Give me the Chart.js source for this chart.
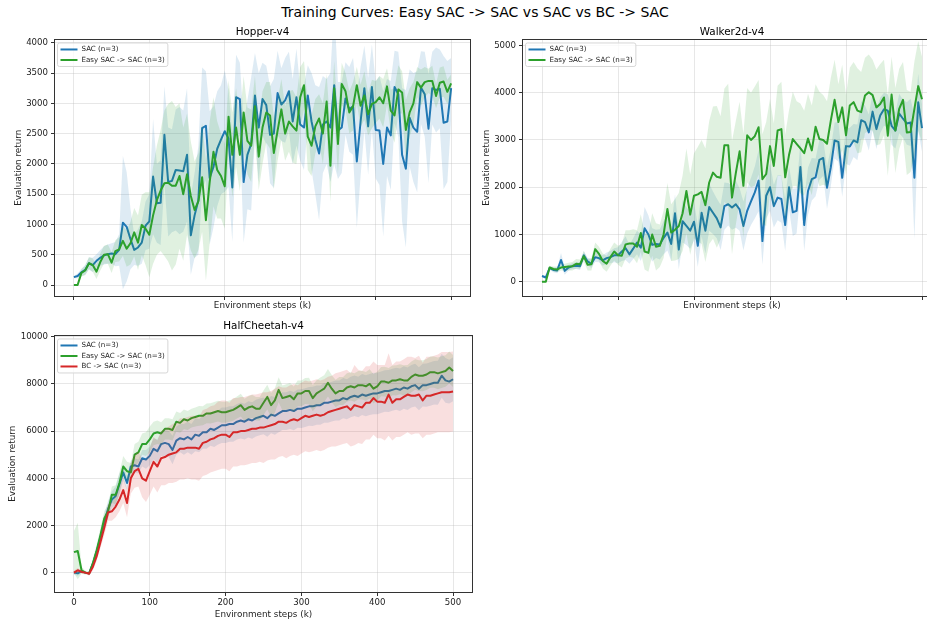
<!DOCTYPE html>
<html>
<head>
<meta charset="utf-8">
<script src="https://cdn.jsdelivr.net/npm/chart.js@4.4.1/dist/chart.umd.min.js"></script>
<style>
    body { margin: 0; width: 927px; height: 621px; overflow: hidden; background: #fff; position: relative; font-family: 'DejaVu Sans', sans-serif; }
    canvas { position: absolute; }
    #suptitle { position: absolute; left: 0; width: 950px; top: 4px; text-align: center; font-size: 14px; color: #000; }
</style>
</head>
<body>
<div id="suptitle">Training Curves: Easy SAC -&gt; SAC vs SAC vs BC -&gt; SAC</div>
<canvas id="hopper" width="480" height="320" style="left:0;top:0"></canvas>
<canvas id="walker" width="480" height="320" style="left:468px;top:0"></canvas>
<canvas id="cheetah" width="480" height="301" style="left:0;top:320px"></canvas>
<script>
// Environment steps (k)
const steps = [
    0, 5, 10, 15, 20, 25, 30, 35, 40, 45, 50,
    55, 60, 65, 70, 75, 80, 85, 90, 95, 100,
    105, 110, 115, 120, 125, 130, 135, 140, 145, 150,
    155, 160, 165, 170, 175, 180, 185, 190, 195, 200,
    205, 210, 215, 220, 225, 230, 235, 240, 245, 250,
    255, 260, 265, 270, 275, 280, 285, 290, 295, 300,
    305, 310, 315, 320, 325, 330, 335, 340, 345, 350,
    355, 360, 365, 370, 375, 380, 385, 390, 395, 400,
    405, 410, 415, 420, 425, 430, 435, 440, 445, 450,
    455, 460, 465, 470, 475, 480, 485, 490, 495, 500
];

// Hopper-v4
const hopperSac = [
    130, 150, 210, 250, 360, 330, 400, 450, 490, 510, 520,
    510, 580, 1030, 960, 760, 580, 620, 700, 980, 1050,
    1790, 1350, 1360, 2480, 1700, 1720, 1900, 1890, 1880, 2150,
    820, 1150, 1400, 2590, 2630, 1770, 1950, 2250, 2400, 2540,
    2420, 1610, 3100, 3070, 1700, 2150, 2330, 3130, 2600, 3070,
    2970, 2480, 2500, 3170, 2980, 3050, 3200, 2700, 3100, 2650,
    2600, 3130, 2700, 2400, 2170, 2650, 2700, 2600, 3300, 2550,
    2600, 3080, 2900, 2950, 2040, 2700, 3250, 2620, 3270, 2560,
    2550, 2000, 2600, 2470, 3270, 3150, 2150, 1920, 2760, 2600,
    2530, 3260, 3150, 2580, 3250, 3220, 3240, 2680, 2700, 3250
];
const hopperSacStd = [
    20, 40, 60, 80, 100, 120, 110, 130, 150, 160, 170,
    200, 260, 1100, 900, 500, 250, 300, 350, 400, 450,
    950, 650, 700, 800, 900, 850, 1000, 1050, 1000, 1100,
    650, 700, 900, 1000, 900, 1100, 1000, 950, 900, 1000,
    800, 900, 700, 600, 1000, 900, 1100, 700, 900, 600,
    650, 800, 900, 700, 600, 700, 650, 700, 800, 600,
    700, 500, 800, 900, 1100, 800, 700, 900, 1300, 800,
    750, 600, 700, 800, 1100, 900, 700, 800, 700, 800,
    900, 1200, 800, 900, 600, 700, 1100, 1300, 800, 900,
    1000, 600, 700, 900, 600, 700, 650, 1100, 1000, 500
];
const hopperEasy = [
    0, 0, 200, 240, 360, 330, 220, 380, 500, 510, 370,
    560, 590, 730, 600, 690, 870, 700, 990, 930, 830,
    1150, 1400, 1560, 1680, 1690, 1640, 1640, 1800, 1500, 1830,
    1470, 1240, 1380, 1780, 1070, 1700, 2200, 1900, 1800, 1630,
    2780, 2150, 2600, 2150, 2850, 2380, 2300, 2950, 2120, 2600,
    2850, 2800, 2180, 2550, 2900, 2500, 2700, 2620, 2550, 3100,
    3300, 2450, 2300, 2620, 2750, 2500, 3030, 1970, 3250, 2330,
    3320, 3200, 2850, 2950, 3300, 2960, 3130, 2820, 2990, 3020,
    3100, 3000, 3280, 2880, 2800, 3230, 3180, 2560, 2850, 3000,
    3350, 3260, 3350, 3370, 3370, 3120, 3340, 3360, 3190, 3330
];
const hopperEasyStd = [
    10, 10, 60, 80, 100, 110, 120, 140, 150, 160, 170,
    180, 200, 250, 300, 350, 400, 450, 500, 600, 700,
    800, 900, 1000, 1200, 1300, 1400, 1300, 1200, 1100, 1000,
    900, 800, 800, 900, 1000, 1000, 900, 800, 700, 700,
    600, 700, 650, 600, 600, 550, 600, 500, 550, 600,
    500, 550, 600, 500, 500, 450, 500, 600, 550, 500,
    400, 550, 500, 450, 400, 500, 450, 600, 450, 500,
    350, 300, 350, 400, 300, 350, 400, 350, 400, 350,
    350, 400, 300, 350, 450, 400, 350, 500, 400, 350,
    250, 300, 250, 200, 250, 200, 250, 250, 200, 150
];

// Walker2d-v4
const walkerSac = [
    120, 90, 290, 250, 240, 460, 230, 300, 330, 340, 330,
    560, 430, 380, 520, 500, 450, 500, 520, 560, 560,
    640, 710, 580, 700, 830, 720, 1130, 1000, 780, 800,
    790, 930, 1040, 800, 1450, 680, 1280, 1180, 1080, 1270,
    760, 1460, 1080, 1580, 1460, 1340, 1150, 1600, 1640, 1570,
    1640, 1530, 1180, 1500, 1700, 1890, 2140, 860, 1820, 2000,
    1600, 1780, 1750, 1200, 2000, 1470, 1500, 2430, 1200, 1920,
    2170, 2210, 2580, 2620, 1990, 2420, 2990, 2960, 2200, 2870,
    2860, 2990, 2950, 3420, 3380, 3160, 3600, 3230, 3520, 3650,
    3620, 3300, 3200, 3560, 3450, 3350, 3370, 2200, 3800, 3250
];
const walkerSacStd = [
    20, 30, 40, 50, 60, 150, 80, 60, 60, 70, 80,
    90, 80, 90, 100, 90, 110, 120, 130, 150, 170,
    200, 250, 200, 220, 250, 280, 450, 400, 350, 300,
    320, 350, 380, 360, 400, 420, 450, 400, 380, 400,
    450, 500, 480, 500, 450, 420, 480, 500, 450, 470,
    500, 450, 520, 480, 500, 550, 650, 500, 480, 500,
    450, 480, 500, 550, 450, 500, 480, 520, 550, 500,
    450, 400, 420, 380, 450, 400, 380, 420, 400, 380,
    400, 350, 380, 400, 350, 380, 400, 420, 380, 350,
    350, 400, 380, 420, 400, 450, 500, 1300, 600, 500
];
const walkerEasy = [
    0, 0, 300, 270, 260, 300, 310, 320, 330, 380, 370,
    540, 360, 370, 690, 590, 440, 380, 520, 640, 560,
    550, 790, 810, 810, 740, 1030, 640, 610, 1000, 740,
    760, 1000, 1540, 1040, 1100, 1180, 1450, 1920, 1420, 1820,
    1850, 1900, 1620, 2100, 2310, 2220, 2200, 2890, 2890, 1780,
    2300, 2760, 2030, 3100, 3000, 3080, 3270, 2170, 2280, 2870,
    2450, 3200, 3230, 2210, 2680, 3020, 2920, 2820, 2720, 3030,
    2780, 3280, 3020, 3000, 2920, 3410, 3850, 3380, 3690, 3100,
    3730, 3800, 3620, 3590, 3940, 4010, 3950, 3690, 3760, 3900,
    3090, 3960, 3200, 3660, 3850, 3160, 3170, 3660, 4140, 3860
];
const walkerEasyStd = [
    10, 10, 40, 50, 60, 60, 70, 80, 90, 100, 100,
    110, 120, 130, 140, 150, 160, 170, 180, 190, 200,
    250, 300, 280, 300, 350, 400, 380, 400, 450, 500,
    450, 500, 550, 600, 650, 700, 800, 900, 850, 900,
    1000, 1100, 1200, 1300, 1400, 1500, 1300, 1200, 1300, 1200,
    1100, 1050, 1100, 1000, 1000, 1050, 1000, 950, 1100, 1000,
    900, 950, 1000, 900, 950, 1000, 900, 950, 900, 950,
    950, 900, 1000, 950, 900, 900, 850, 800, 900, 850,
    800, 850, 900, 850, 800, 800, 750, 800, 850, 800,
    850, 800, 900, 850, 800, 900, 850, 1000, 950, 900
];

// HalfCheetah-v4
const cheetahSac = [
    0, -30, 60, 0, -30, 380, 900, 1500, 2150, 2700, 3100,
    3250, 3750, 4250, 3800, 4500, 4550, 4500, 4850, 4800, 4950,
    5250, 5150, 5450, 5500, 5450, 5200, 5600, 5700, 5650, 5750,
    5650, 5850, 5800, 5950, 5950, 6100, 6050, 6150, 6250, 6250,
    6300, 6300, 6400, 6450, 6400, 6500, 6450, 6550, 6600, 6650,
    6550, 6700, 6650, 6750, 6850, 6850, 6900, 6850, 6950, 6950,
    7000, 7050, 7050, 7100, 7100, 7200, 7200, 7250, 7300, 7300,
    7400, 7350, 7450, 7500, 7450, 7550, 7500, 7550, 7600, 7600,
    7650, 7700, 7700, 7750, 7800, 7750, 7850, 7800, 7900, 7950,
    7800, 7950, 7950, 8000, 8050, 8050, 8350, 8150, 8100, 8200
];
const cheetahSacStd = [
    80, 100, 60, 40, 60, 150, 200, 250, 300, 350, 350,
    400, 450, 350, 300, 250, 300, 300, 350, 400, 400,
    450, 500, 500, 550, 550, 600, 600, 600, 650, 650,
    650, 700, 700, 700, 700, 720, 720, 720, 750, 750,
    750, 750, 750, 760, 760, 770, 770, 780, 780, 780,
    790, 790, 800, 800, 800, 800, 810, 810, 810, 820,
    820, 820, 830, 830, 830, 840, 840, 840, 850, 850,
    850, 850, 860, 860, 860, 870, 870, 870, 880, 880,
    880, 880, 890, 890, 890, 900, 900, 900, 900, 910,
    910, 910, 920, 920, 920, 930, 930, 950, 930, 930
];
const cheetahEasy = [
    870, 920, 100, 0, -30, 400, 950, 1600, 2300, 2600, 3300,
    3300, 3800, 4500, 4300, 4250, 5000, 5100, 5450, 5450, 5650,
    5900, 5950, 5900, 6100, 6100, 6050, 6400, 6350, 6500, 6450,
    6550, 6600, 6650, 6650, 6750, 6750, 6800, 6850, 6800, 6800,
    6850, 6900, 7000, 7100, 6900, 7000, 7050, 6950, 6950, 7200,
    7450, 7100, 7300, 7750, 7400, 7450, 7500, 7350, 7600, 7600,
    7700, 7700, 7400, 7600, 7700, 7800, 8050, 7800, 7600, 7700,
    7700, 7850, 7900, 7850, 7950, 7950, 7900, 8000, 7800, 7900,
    8100, 8100, 8050, 8150, 8150, 8200, 8150, 8150, 8300, 8400,
    8350, 8350, 8400, 8500, 8500, 8450, 8500, 8550, 8700, 8550
];
const cheetahEasyStd = [
    900, 1200, 150, 80, 60, 200, 250, 300, 300, 300, 350,
    400, 450, 450, 400, 400, 450, 450, 450, 500, 550,
    500, 500, 480, 450, 450, 450, 430, 420, 420, 400,
    400, 400, 420, 400, 420, 430, 430, 440, 450, 450,
    450, 460, 470, 480, 470, 480, 490, 500, 500, 520,
    520, 520, 520, 530, 530, 540, 540, 540, 550, 550,
    550, 560, 560, 560, 570, 570, 580, 580, 580, 590,
    590, 600, 600, 600, 600, 610, 610, 620, 620, 620,
    620, 630, 630, 630, 640, 640, 640, 650, 650, 650,
    650, 660, 660, 660, 660, 670, 670, 670, 680, 680
];
const cheetahBc = [
    0, 100, 30, 0, -50, 250, 700, 1300, 1900, 2550, 2600,
    2800, 3100, 3500, 2950, 4000, 4300, 4400, 4000, 3900, 4300,
    4700, 4500, 4850, 4900, 5000, 5050, 5100, 5250, 5250, 5300,
    5300, 5300, 5250, 5500, 5550, 5650, 5700, 5800, 5850, 5850,
    5750, 5950, 5950, 6000, 6000, 6050, 6100, 6100, 6150, 6150,
    6200, 6250, 6300, 6400, 6400, 6350, 6450, 6500, 6450, 6550,
    6650, 6600, 6650, 6700, 6650, 6700, 6800, 6850, 6900, 6950,
    7000, 7050, 6900, 7100, 7050, 7000, 7200, 7200, 7400, 7250,
    7250, 7200, 7550, 7200, 7350, 7350, 7450, 7550, 7500, 7500,
    7550, 7300, 7500, 7500, 7550, 7600, 7650, 7650, 7650, 7680
];
const cheetahBcStd = [
    80, 100, 60, 50, 80, 150, 200, 250, 300, 350, 400,
    450, 500, 550, 600, 650, 700, 750, 800, 900, 1000,
    1050, 1100, 1150, 1200, 1200, 1250, 1250, 1300, 1300, 1300,
    1350, 1350, 1350, 1400, 1400, 1400, 1400, 1450, 1450, 1450,
    1450, 1450, 1450, 1450, 1450, 1450, 1450, 1450, 1450, 1500,
    1450, 1450, 1500, 1500, 1450, 1500, 1500, 1500, 1500, 1500,
    1500, 1500, 1500, 1500, 1500, 1500, 1500, 1500, 1550, 1550,
    1550, 1550, 1550, 1700, 1550, 1550, 1550, 1550, 1550, 1550,
    1550, 1600, 1750, 1600, 1600, 1600, 1600, 1600, 1650, 1600,
    1650, 1600, 1650, 1650, 1650, 1650, 1700, 1700, 1700, 1700
];

// Tick labels
const xTicks = [0, 100, 200, 300, 400, 500];
const hopperTicks = [0, 500, 1000, 1500, 2000, 2500, 3000, 3500, 4000];
const walkerTicks = [0, 1000, 2000, 3000, 4000, 5000];
const cheetahTicks = [0, 2000, 4000, 6000, 8000, 10000];

const COLORS = {
    sac: { line: '#1f77b4', band: 'rgba(31,119,180,0.15)' },
    easy: { line: '#2ca02c', band: 'rgba(44,160,44,0.15)' },
    bc: { line: '#d62728', band: 'rgba(214,39,40,0.15)' }
};
const FONT = "'DejaVu Sans'";

// mean line + std band, later methods drawn above earlier ones
function methodSets(label, mean, std, color, rank) {
    const lower = mean.map((m, i) => ({ x: steps[i], y: m - std[i] }));
    const upper = mean.map((m, i) => ({ x: steps[i], y: m + std[i] }));
    return [
        { label: label + ' lo', data: lower, borderWidth: 0, pointRadius: 0, fill: false, order: 30 - rank * 3 },
        { label: label + ' hi', data: upper, borderWidth: 0, pointRadius: 0, fill: '-1', backgroundColor: color.band, order: 29 - rank * 3 },
        { label: label, data: mean.map((m, i) => ({ x: steps[i], y: m })), borderColor: color.line, borderWidth: 2,
          pointRadius: 0, fill: false, borderJoinStyle: 'round', order: 28 - rank * 3 }
    ];
}

// full box around the plot, like matplotlib spines
const framePlugin = {
    id: 'frame',
    afterDatasetsDraw(chart) {
        const { ctx, chartArea: a } = chart;
        ctx.save();
        ctx.strokeStyle = '#333';
        ctx.lineWidth = 1;
        ctx.strokeRect(Math.round(a.left) - 0.5, Math.round(a.top) + 0.5, Math.round(a.right - a.left) + 1, Math.round(a.bottom - a.top));
        ctx.restore();
    }
};

// legend box in the upper left corner of the axes
const boxLegend = {
    id: 'boxLegend',
    afterDraw(chart, args, opts) {
        const items = opts.items;
        if (!items) return;
        const { ctx, chartArea: a } = chart;
        ctx.save();
        ctx.font = '7.1px ' + FONT;
        const textW = Math.max(...items.map(it => ctx.measureText(it.label).width));
        const x = a.left + 2.5, y = a.top + 3.5;
        const w = textW + 27, h = items.length * 10.5 + 2.5;
        ctx.beginPath();
        ctx.roundRect(x, y, w, h, 2);
        ctx.fillStyle = 'rgba(255,255,255,0.8)';
        ctx.fill();
        ctx.strokeStyle = '#d6d6d6';
        ctx.lineWidth = 1;
        ctx.stroke();
        ctx.textBaseline = 'middle';
        items.forEach((it, i) => {
            const cy = y + 6.5 + i * 10.5;
            ctx.beginPath();
            ctx.moveTo(x + 3, cy);
            ctx.lineTo(x + 20, cy);
            ctx.strokeStyle = it.color;
            ctx.lineWidth = 2;
            ctx.stroke();
            ctx.fillStyle = '#222';
            ctx.fillText(it.label, x + 24, cy);
        });
        ctx.restore();
    }
};

function makeChart(id, cfg) {
    const datasets = [];
    cfg.methods.forEach((m, r) => datasets.push(...methodSets(m.label, m.mean, m.std, m.color, r)));
    return new Chart(document.getElementById(id), {
        type: 'line',
        data: { datasets },
        plugins: [framePlugin, boxLegend],
        options: {
            responsive: false,
            animation: false,
            devicePixelRatio: 1,
            layout: { padding: cfg.padding },
            scales: {
                x: {
                    type: 'linear', min: -25, max: 525,
                    afterBuildTicks: s => { s.ticks = xTicks.map(v => ({ value: v })); },
                    afterFit: s => { s.height = cfg.xHeight; },
                    border: { display: false },
                    grid: { color: 'rgba(176,176,176,0.3)', tickColor: '#333', tickLength: 4 },
                    ticks: { display: true, autoSkip: false, maxRotation: 0, padding: 2, color: '#222',
                             font: { family: FONT, size: 8.6 }, callback: v => cfg.xLabels ? String(v) : '' },
                    title: { display: true, text: 'Environment steps (k)', color: '#222',
                             font: { family: FONT, size: 8.8 }, padding: { top: 0, bottom: cfg.xTitlePad } }
                },
                y: {
                    min: cfg.yMin, max: cfg.yMax,
                    afterBuildTicks: s => { s.ticks = cfg.yTicks.map(v => ({ value: v })); },
                    afterFit: s => { s.width = 55; },
                    border: { display: false },
                    grid: { color: 'rgba(176,176,176,0.3)', tickColor: '#333', tickLength: 4 },
                    ticks: { padding: 3, color: '#222', font: { family: FONT, size: 8.6 }, callback: v => String(v) },
                    title: { display: true, text: 'Evaluation return', color: '#222',
                             font: { family: FONT, size: 8.8 }, padding: { top: cfg.yTitlePad, bottom: 0 } }
                }
            },
            plugins: {
                legend: { display: false },
                tooltip: { enabled: false },
                title: { display: true, text: cfg.title, fullSize: false, color: '#000',
                         font: { family: FONT, size: 10.4, weight: 'normal' }, padding: cfg.titlePad },
                boxLegend: { items: cfg.methods.map(m => ({ label: m.label, color: m.color.line })) }
            }
        }
    });
}

makeChart('hopper', {
    title: 'Hopper-v4',
    methods: [
        { label: 'SAC (n=3)', mean: hopperSac, std: hopperSacStd, color: COLORS.sac },
        { label: 'Easy SAC -> SAC (n=3)', mean: hopperEasy, std: hopperEasyStd, color: COLORS.easy }
    ],
    yMin: -181, yMax: 4054, yTicks: hopperTicks,
    padding: { left: 0, right: 10, top: 0, bottom: 0 },
    titlePad: { top: 26, bottom: 1 },
    xHeight: 24, xTitlePad: 9, xLabels: false, yTitlePad: 13
});

makeChart('walker', {
    title: 'Walker2d-v4',
    methods: [
        { label: 'SAC (n=3)', mean: walkerSac, std: walkerSacStd, color: COLORS.sac },
        { label: 'Easy SAC -> SAC (n=3)', mean: walkerEasy, std: walkerEasyStd, color: COLORS.easy }
    ],
    yMin: -302, yMax: 5127, yTicks: walkerTicks,
    padding: { left: 0, right: 7, top: 0, bottom: 0 },
    titlePad: { top: 26, bottom: 1 },
    xHeight: 24, xTitlePad: 9, xLabels: false, yTitlePad: 13
});

makeChart('cheetah', {
    title: 'HalfCheetah-v4',
    methods: [
        { label: 'SAC (n=3)', mean: cheetahSac, std: cheetahSacStd, color: COLORS.sac },
        { label: 'Easy SAC -> SAC (n=3)', mean: cheetahEasy, std: cheetahEasyStd, color: COLORS.easy },
        { label: 'BC -> SAC (n=3)', mean: cheetahBc, std: cheetahBcStd, color: COLORS.bc }
    ],
    yMin: -821, yMax: 10055, yTicks: cheetahTicks,
    padding: { left: 0, right: 8, top: 0, bottom: 0 },
    titlePad: { top: 0, bottom: 3 },
    xHeight: 29, xTitlePad: 1, xLabels: true, yTitlePad: 7
});
</script>
</body>
</html>
